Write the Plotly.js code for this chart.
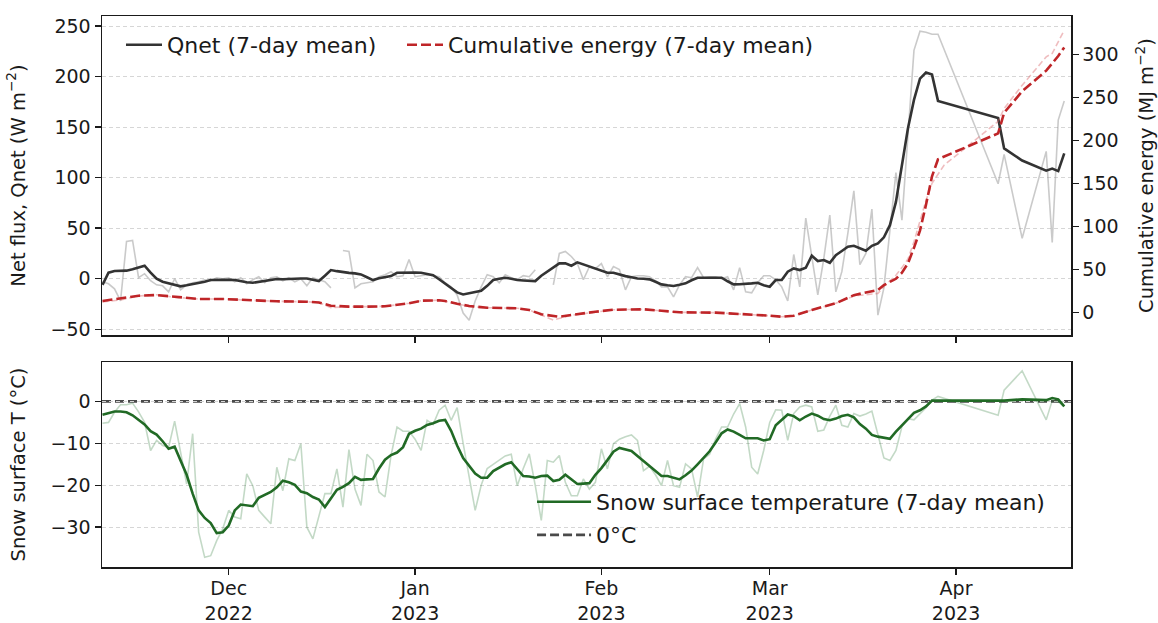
<!DOCTYPE html>
<html><head><meta charset="utf-8">
<script src="https://cdn.plot.ly/plotly-3.0.1.min.js"></script>
<style>html,body{margin:0;padding:0;background:#fff}#chart{width:1158px;height:623px}</style>
</head><body><div id="chart"></div>
<script>
// ---- data ----
const dailyStart = '2022-11-10';   // daily records 2022-11-10 .. 2023-03-29 (140 days)
const dailyCount = 140;
const lateDates = ['2023-04-08','2023-04-09','2023-04-12','2023-04-16','2023-04-17','2023-04-18','2023-04-19'];

// Net flux Qnet, daily (W m-2)
const qnetRaw = [
  -3,-5,-10,-22,37,38,1,5,-2,-6,-7,-13,0,-11,-6,-4,-3,-1,-2,1,0,
  1,-3,1,-5,-1,2,-4,1,2,-2,1,-3,0,-7,1,-1,-3,-9,null,28,27,-9,-5,-4,-3,2,4,7,2,3,19,
  2,3,4,3,2,-4,-8,-16,-34,-41,-22,-8,4,2,-4,4,1,-1,3,2,9,null,null,-6,25,27,22,15,-1,12,10,
  15,2,12,9,-11,2,3,3,2,-2,-8,-8,-18,-6,2,1,11,1,2,2,0,2,-11,11,-13,-14,-4,3,
  3,-1,-8,-22,24,-8,60,22,-16,20,63,-13,7,45,87,14,25,69,-36,-9,45,105,58,145,226,245,244,242,242,
  94,123,40,126,36,157,176
];
// Qnet 7-day mean
const qnetMean = [
  -6,6,7.6,7.6,8,9.5,11,12.9,6,0,-3,-4.5,-6,-7.5,-6.5,-5.5,-4.6,-3,-1.3,-1,-0.6,
  -1,-1.3,-2.5,-3.5,-4,-3,-2.3,-1.2,-0.3,-0.5,-0.6,0,0.2,0.3,-1,-2.3,3,8.6,7.5,6.3,5.8,5.3,4.3,1.5,-1.3,0.5,1.5,2.6,5.9,6.1,6.3,
  6.1,5.9,4.8,3.6,-0.5,-5,-9.5,-13.5,-15.5,-14.5,-13,-11.9,-7,-1.3,0,1,0,-1.3,-1.7,-2,-2.3,3,6.9,11,15.2,15.2,12.9,16.2,14,12,10.2,
  8,5.9,5.9,4,2.6,1.5,0.3,0,-0.6,-3,-5.6,-6.5,-7.2,-6,-4.6,-1.5,1,1,1,1,1,-2.5,-5.6,-5.4,-5.3,-4.6,-4,-6.5,
  -7.9,-1.3,-1.3,7,10.2,8.6,10.9,22.8,17.5,18.5,15.8,23.4,27.5,31.7,32.6,30,27.7,32.6,35,41,53,76,111,149,177,198,204,202,176,
  159,129,117,107,109,106.5,124
];
// Snow surface temperature, daily (°C)
const tempRaw = [
  -5.2,-5,-2.6,-0.8,-0.8,-0.4,-2.5,-5,-11.7,-9.3,-10.5,-11,-4.7,-12.5,-19.7,-7.7,-31.2,-37.2,-36.8,-33.2,-30.4,
  -26,-27.6,-28,-17.3,-20.1,-26,-27.6,-29.2,-15.7,-21.3,-13.7,-14.1,-10.1,-30,-32.8,-27.6,-22,-22,-16.1,-25.2,-11.5,-20.9,-24.8,-12.6,-14.1,-21.6,-22.8,-12.9,-6.1,-7.1,-7.1,
  -9,-11.7,-4.5,-5.5,-2.1,-0.9,-4.5,-1.5,-10,-18,-26,-20,-16,-15,-13.9,-13,-12.6,-20.1,-16,-12.5,-20.1,-28.4,-14.1,-14.5,-12.9,-19.3,-22.5,-22.5,-18.5,-20.9,-19.3,
  -11.3,-16.1,-10.1,-9,-8.4,-8,-9.3,-16.5,-15.5,-17.5,-20.1,-14.1,-20.1,-20.5,-14.9,-16.1,-22.8,-13.7,-12.6,-9,-6.1,-6.1,-3,-0.5,-6.1,-15.7,-17.3,-11.7,
  -5,-2,-2.1,-9.3,-2.9,-1.3,-0.9,-1.3,-7.1,-6.8,-3.5,-0.9,-5.7,-6.1,-2.9,-3.5,-3,-2.3,-8,-13.5,-14.1,-11.7,-6,-4.1,-4.4,-2.9,-1.5,0.3,1.2,
  -3.3,2.7,7.3,-4.4,0.2,-0.1,-1.2
];
// Snow surface temperature 7-day mean
const tempMean = [
  -3.2,-2.8,-2.4,-2.4,-2.6,-3.3,-4.3,-5.5,-7.1,-7.9,-9.5,-11.3,-10.8,-14,-17.5,-22,-26,-27.8,-29,-31.4,-31.2,
  -29.6,-26,-24.6,-24.8,-25,-23,-22.3,-21.6,-20.5,-18.9,-19.3,-19.9,-21.5,-21.9,-22.8,-23.4,-25.2,-23,-21.1,-20.4,-19.5,-18,-18.7,-18.6,-18.5,-16,-13.9,-12.8,-12.2,-10.9,-7.7,
  -7,-6.5,-5.6,-5.2,-4.6,-4.4,-7,-10.5,-13.5,-15.5,-17.2,-18.2,-18.2,-16.6,-15.7,-15,-14.5,-16.2,-17.8,-17.9,-18.2,-17.8,-17.7,-19,-18.7,-17.5,-18.5,-19.7,-19.6,-19.5,-17.5,
  -15.9,-14,-12,-11.1,-11.4,-11.8,-13,-14.2,-15.3,-16.5,-17.8,-17.8,-18.2,-18.6,-17.6,-16.5,-15,-13.5,-11.9,-9.8,-7.6,-6.7,-7.2,-8,-8.8,-8.8,-8.8,-9.3,
  -9,-5.7,-4.5,-3.1,-3.5,-4.5,-3.6,-2.9,-3.4,-4.2,-4.5,-4.1,-3.5,-3.2,-3.8,-5.4,-6.5,-8,-8.4,-8.6,-8.9,-7.2,-5.8,-4.2,-2.7,-2.1,-1.2,0.2,0.2,
  0.1,0.2,0.5,0.3,0.8,0.5,-1.2
];
// Cumulative energy (MJ m-2), 7-day mean
const cumMeanDates = ['2022-11-10','2022-11-13','2022-11-16','2022-11-19','2022-11-22','2022-11-26','2022-11-30','2022-12-04','2022-12-09','2022-12-14','2022-12-16','2022-12-18','2022-12-21','2022-12-24','2022-12-27','2022-12-31','2023-01-02','2023-01-05','2023-01-06','2023-01-08','2023-01-10','2023-01-13','2023-01-18','2023-01-20','2023-01-22','2023-01-25','2023-01-27','2023-01-31','2023-02-03','2023-02-08','2023-02-11','2023-02-14','2023-02-20','2023-02-25','2023-03-01','2023-03-03','2023-03-05','2023-03-08','2023-03-12','2023-03-15','2023-03-19','2023-03-20','2023-03-22','2023-03-23','2023-03-24','2023-03-25','2023-03-26','2023-03-27','2023-03-28','2023-03-29','2023-04-08','2023-04-09','2023-04-12','2023-04-16','2023-04-17','2023-04-18','2023-04-19'];
const cumMean = [13.1,16.3,19.3,20.1,18.1,15.5,15.5,14,12.8,12.3,11.5,7.7,6.6,6.6,7,10.5,13.5,14,13.1,10,7.3,5.4,4.7,2.7,-2.3,-5.1,-3.1,0.7,3,3.5,1.9,0,-0.4,-2,-3.9,-5.1,-4,2.7,10.5,20,26,31.7,39,46,57,75,95,125,158,178,208,232,257,281,289,298,308];
// Cumulative energy (MJ m-2), daily
const cumRawDates = ['2022-11-10','2022-11-13','2022-11-16','2022-11-19','2022-11-22','2022-11-26','2022-11-30','2022-12-04','2022-12-09','2022-12-14','2022-12-16','2022-12-18','2022-12-21','2022-12-24','2022-12-27','2022-12-31','2023-01-02','2023-01-05','2023-01-06','2023-01-08','2023-01-10','2023-01-13','2023-01-18','2023-01-20','2023-01-24','2023-01-27','2023-01-31','2023-02-03','2023-02-08','2023-02-11','2023-02-14','2023-02-20','2023-02-25','2023-03-01','2023-03-03','2023-03-05','2023-03-08','2023-03-12','2023-03-15','2023-03-19','2023-03-20','2023-03-22','2023-03-23','2023-03-24','2023-03-25','2023-03-26','2023-03-27','2023-03-28','2023-03-29','2023-03-30','2023-04-08','2023-04-09','2023-04-12','2023-04-16','2023-04-17','2023-04-18','2023-04-19'];
const cumRaw = [12,14.5,19,20.5,17.5,15.5,15.5,14,12.8,12.3,11.5,5.5,6.6,6.6,7,10.5,13.5,14,13.1,10,6.5,5.4,4.7,2.7,-9,-3.5,0.7,3,3.5,1.9,0,-0.4,-2,-3.9,-5.1,-4,2.7,10.5,19,22,30,43,52,62,82,105,130,150,160,171,222,237,264,297,301,314,328];

const monthTicks = ['2022-12-01','2023-01-01','2023-02-01','2023-03-01','2023-04-01'];
const monthLabels = ['Dec<br>2022','Jan<br>2023','Feb<br>2023','Mar<br>2023','Apr<br>2023'];
const qnetTicks = [-50,0,50,100,150,200,250];
const cumTicks = [0,50,100,150,200,250,300];
const tempTicks = [-30,-20,-10,0];

// ---- build daily date axis ----
function dayList(start, n) {
  const [y, m, d] = start.split('-').map(Number);
  const out = [];
  for (let i = 0; i < n; i++) {
    out.push(new Date(Date.UTC(y, m - 1, d + i)).toISOString().slice(0, 10));
  }
  return out;
}
const dates = dayList(dailyStart, dailyCount).concat(lateDates);

const FONT = 'DejaVu Sans, sans-serif';
const INK = '#1a1a1a';
const xRange = ['2022-11-09 22:00', '2023-04-20 03:00'];

const traces = [
  {x: dates, y: qnetRaw, xaxis: 'x', yaxis: 'y', mode: 'lines', showlegend: false, hoverinfo: 'skip',
   line: {color: 'rgba(150,150,150,0.5)', width: 1.6}},
  {x: dates, y: qnetMean, xaxis: 'x', yaxis: 'y', mode: 'lines', name: 'Qnet (7-day mean)', legend: 'legend',
   line: {color: '#333333', width: 2.6}},
  {x: cumRawDates, y: cumRaw, xaxis: 'x', yaxis: 'y2', mode: 'lines', showlegend: false, hoverinfo: 'skip',
   line: {color: 'rgba(215,90,95,0.4)', width: 1.6, dash: '6px,3px'}},
  {x: cumMeanDates, y: cumMean, xaxis: 'x', yaxis: 'y2', mode: 'lines', name: 'Cumulative energy (7-day mean)', legend: 'legend3',
   line: {color: '#bf2528', width: 2.6, dash: '10px,4px'}},
  {x: dates, y: tempRaw, xaxis: 'x2', yaxis: 'y3', mode: 'lines', showlegend: false, hoverinfo: 'skip',
   line: {color: 'rgba(40,120,50,0.28)', width: 1.6}},
  {x: dates, y: tempMean, xaxis: 'x2', yaxis: 'y3', mode: 'lines', name: 'Snow surface temperature (7-day mean)', legend: 'legend2',
   line: {color: '#216a25', width: 2.6}},
  {x: [null], y: [null], xaxis: 'x2', yaxis: 'y3', mode: 'lines', name: '0°C', legend: 'legend4',
   line: {color: '#4a4a4a', width: 2.8, dash: '9px,4px'}}
];

const axisCommon = {
  showline: true, linecolor: INK, linewidth: 1.5, mirror: true,
  ticks: 'outside', ticklen: 6, tickwidth: 1.5, tickcolor: INK,
  tickfont: {family: FONT, size: 19, color: INK}, zeroline: false
};
const gridStyle = {showgrid: true, gridcolor: '#d6d6d6', gridwidth: 1, griddash: '4px,3px'};
const legendCommon = {bgcolor: 'rgba(0,0,0,0)', borderwidth: 0, font: {family: FONT, size: 22, color: INK},
  xanchor: 'left', yanchor: 'middle', orientation: 'v', itemclick: false, itemdoubleclick: false};

const layout = {
  width: 1158, height: 623,
  margin: {l: 102, r: 87, t: 16, b: 56},
  paper_bgcolor: '#ffffff', plot_bgcolor: '#ffffff',
  font: {family: FONT, color: INK},
  xaxis: Object.assign({}, axisCommon, {type: 'date', domain: [0, 1], anchor: 'y', range: xRange,
    tickvals: monthTicks, showticklabels: false, showgrid: false}),
  yaxis: Object.assign({}, axisCommon, gridStyle, {domain: [0.421, 1], range: [-55.7, 260], tickvals: qnetTicks,
    title: {text: 'Net flux, Qnet (W m<sup>−2</sup>)', font: {family: FONT, size: 19.5, color: INK}, standoff: 20}}),
  yaxis2: Object.assign({}, axisCommon, {overlaying: 'y', side: 'right', anchor: 'x', range: [-26.4, 344.5],
    tickvals: cumTicks, showgrid: false, mirror: false,
    title: {text: 'Cumulative energy (MJ m<sup>−2</sup>)', font: {family: FONT, size: 19.5, color: INK}, standoff: 22}}),
  xaxis2: Object.assign({}, axisCommon, {type: 'date', domain: [0, 1], anchor: 'y3', range: xRange,
    tickvals: monthTicks, ticktext: monthLabels, showgrid: false, ticklabelstandoff: -2}),
  yaxis3: Object.assign({}, axisCommon, gridStyle, {domain: [0, 0.372], anchor: 'x2', range: [-39.5, 9.4], tickvals: tempTicks,
    title: {text: 'Snow surface T (°C)', font: {family: FONT, size: 19.5, color: INK}, standoff: 20}}),
  legend: Object.assign({}, legendCommon, {x: 0.0196, y: 0.9474, itemwidth: 36}),
  legend3: Object.assign({}, legendCommon, {x: 0.3096, y: 0.9474, itemwidth: 36}),
  legend2: Object.assign({}, legendCommon, {x: 0.4438, y: 0.118, itemwidth: 54}),
  legend4: Object.assign({}, legendCommon, {x: 0.4438, y: 0.0581, itemwidth: 54}),
  shapes: [{type: 'line', xref: 'x2 domain', x0: 0, x1: 1, yref: 'y3', y0: 0, y1: 0, layer: 'below',
    line: {color: '#4a4a4a', width: 2.8, dash: '9px,4px'}}],
  showlegend: true
};

Plotly.newPlot('chart', traces, layout, {displayModeBar: false, staticPlot: true});
</script>
</body></html>
